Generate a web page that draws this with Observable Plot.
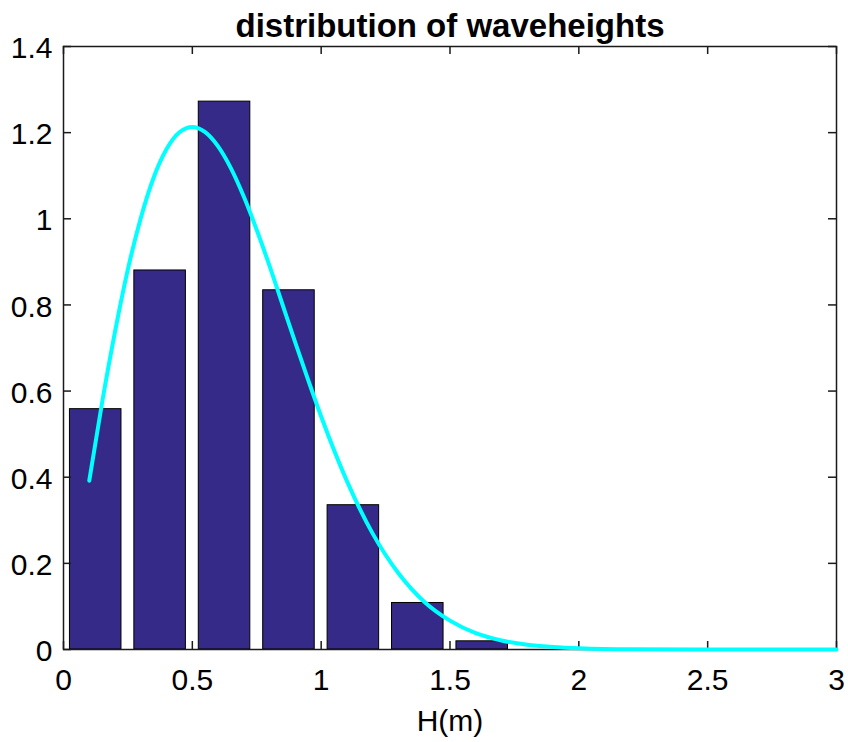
<!DOCTYPE html>
<html>
<head>
<meta charset="utf-8">
<script src="https://cdn.jsdelivr.net/npm/d3@7"></script>
<script src="https://cdn.jsdelivr.net/npm/@observablehq/plot@0.6"></script>
<style>
  html, body { margin: 0; padding: 0; background: #fff; }
  #chart svg { display: block; }
</style>
</head>
<body>
<div id="chart"></div>
<script>
// Histogram bins (centers) and normalized heights
const binCenters = [0.125, 0.375, 0.625, 0.875, 1.125, 1.375, 1.625];
const binHeights = [0.558, 0.880, 1.272, 0.834, 0.335, 0.108, 0.019];
const barWidth = 0.2;

// Fitted curve (cyan)
const curveH = [0.10, 0.15, 0.20, 0.25, 0.30, 0.35, 0.40, 0.45, 0.50, 0.55, 0.60, 0.65, 0.70, 0.75, 0.80, 0.85, 0.90, 0.95, 1.00, 1.10, 1.20, 1.30, 1.40, 1.50, 1.60, 1.70, 1.80, 1.90, 2.00, 2.20, 2.50, 3.00];
const curveP = [0.392, 0.574, 0.738, 0.883, 1.002, 1.096, 1.162, 1.201, 1.213, 1.201, 1.168, 1.117, 1.051, 0.974, 0.890, 0.801, 0.712, 0.625, 0.541, 0.391, 0.269, 0.177, 0.111, 0.067, 0.038, 0.021, 0.011, 0.006, 0.003, 0.0005, 0.0, 0.0];

// Axis ticks and labels
const xTicks = [0, 0.5, 1, 1.5, 2, 2.5, 3];
const xTickLabels = ["0", "0.5", "1", "1.5", "2", "2.5", "3"];
const yTicks = [0, 0.2, 0.4, 0.6, 0.8, 1, 1.2, 1.4];
const yTickLabels = ["0", "0.2", "0.4", "0.6", "0.8", "1", "1.2", "1.4"];

const titleText = "distribution of waveheights";
const xLabel = "H(m)";

const bars = binCenters.map((c, i) => ({x1: c - barWidth / 2, x2: c + barWidth / 2, y: binHeights[i]}));
const curve = curveH.map((h, i) => ({h, p: curveP[i]}));

const W = 848, H = 742;
const mTop = 46, mBottom = 93, mLeft = 63, mRight = 12;
const plotW = W - mLeft - mRight, plotH = H - mTop - mBottom;
const tickLen = 8;
const font = "'Liberation Sans', Arial, Helvetica, sans-serif";

const chart = Plot.plot({
  width: W,
  height: H,
  marginTop: mTop,
  marginBottom: mBottom,
  marginLeft: mLeft,
  marginRight: mRight,
  style: {fontFamily: font, fontSize: "30px", color: "#000", background: "#fff"},
  x: {domain: [0, 3]},
  y: {domain: [0, 1.4]},
  marks: [
    Plot.rectY(bars, {x1: "x1", x2: "x2", y: "y", fill: "#352a87", stroke: "#000", strokeWidth: 1}),
    Plot.frame({stroke: "#1a1a1a", strokeWidth: 1.5}),
    // inward ticks on all four sides
    Plot.tickX(xTicks, {x: d => d, insetTop: plotH - tickLen, stroke: "#1a1a1a", strokeWidth: 1.5}),
    Plot.tickX(xTicks, {x: d => d, insetBottom: plotH - tickLen, stroke: "#1a1a1a", strokeWidth: 1.5}),
    Plot.tickY(yTicks, {y: d => d, insetRight: plotW - tickLen, stroke: "#1a1a1a", strokeWidth: 1.5}),
    Plot.tickY(yTicks, {y: d => d, insetLeft: plotW - tickLen, stroke: "#1a1a1a", strokeWidth: 1.5}),
    Plot.axisX({ticks: xTicks, tickSize: 0, tickPadding: 19, tickFormat: (d, i) => xTickLabels[i], label: null, fontSize: 30}),
    Plot.axisY({ticks: yTicks, tickSize: 0, tickPadding: 11, dy: 2, tickFormat: (d, i) => yTickLabels[i], label: null, fontSize: 30}),
    Plot.line(curve, {x: "h", y: "p", stroke: "#00ffff", strokeWidth: 4, curve: "monotone-x"}),
    Plot.text([titleText], {frameAnchor: "top", lineAnchor: "middle", text: d => d, dy: -20, fontSize: 33, fontWeight: "bold", fill: "#000"}),
    Plot.text([xLabel], {frameAnchor: "bottom", lineAnchor: "middle", text: d => d, dy: 72, fontSize: 30, fill: "#000"})
  ]
});

document.getElementById("chart").appendChild(chart);
</script>
</body>
</html>
